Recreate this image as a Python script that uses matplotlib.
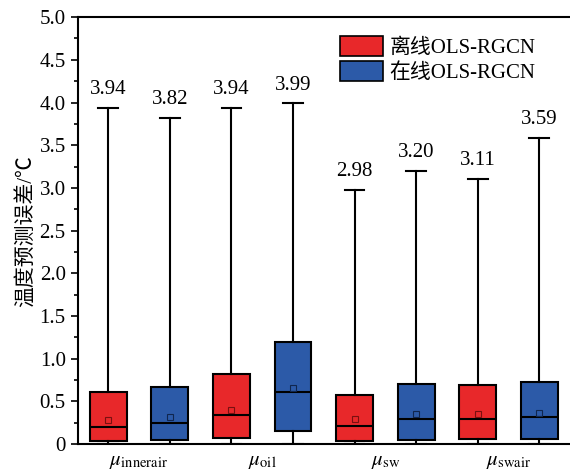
import matplotlib
matplotlib.use("Agg")
import matplotlib.pyplot as plt
from matplotlib.patches import Patch
from matplotlib.ticker import MultipleLocator, FuncFormatter

plt.rcParams['font.family'] = ['Liberation Serif', 'Noto Sans CJK SC']
plt.rcParams['mathtext.fontset'] = 'stix'

# data
groups = [r'$\mu_{\mathrm{innerair}}$', r'$\mu_{\mathrm{oil}}$',
          r'$\mu_{\mathrm{sw}}$', r'$\mu_{\mathrm{swair}}$']
series = ['离线OLS-RGCN', '在线OLS-RGCN']
q1 = [0.04, 0.05, 0.07, 0.15, 0.04, 0.05, 0.06, 0.06]
med = [0.20, 0.25, 0.34, 0.61, 0.21, 0.29, 0.30, 0.32]
q3 = [0.61, 0.67, 0.82, 1.20, 0.58, 0.70, 0.69, 0.73]
mean = [0.28, 0.32, 0.40, 0.66, 0.30, 0.35, 0.35, 0.37]
wmin = [0, 0, 0, 0, 0, 0, 0, 0]
wmax = [3.94, 3.82, 3.94, 3.99, 2.98, 3.20, 3.11, 3.59]

colors = ['#E8282A', '#2C5AA8']
mean_edge = ['#7a1010', '#10264f']

stats = []
for i in range(len(med)):
    stats.append(dict(q1=q1[i], med=med[i], q3=q3[i], mean=mean[i],
                      whislo=wmin[i], whishi=wmax[i], fliers=[]))

fig = plt.figure(figsize=(5.7, 4.75), dpi=100)
ax = fig.add_axes([0.136, 0.065, 0.864, 0.899])

pos = list(range(1, len(med) + 1))
bp = ax.bxp(stats, positions=pos, widths=0.6, capwidths=0.32,
            patch_artist=True, showmeans=True, showfliers=False,
            boxprops=dict(linewidth=1.5, edgecolor='black'),
            medianprops=dict(color='black', linewidth=1.5),
            whiskerprops=dict(color='black', linewidth=1.5),
            capprops=dict(color='black', linewidth=1.5),
            meanprops=dict(marker='s', markersize=4.5, markerfacecolor='none',
                           markeredgewidth=0.8))

for i, b in enumerate(bp['boxes']):
    b.set_facecolor(colors[i % 2])
for i, m in enumerate(bp['means']):
    m.set_markeredgecolor(mean_edge[i % 2])

for p, v in zip(pos, wmax):
    ax.text(p, v + 0.1, f'{v:.2f}', ha='center', va='bottom', fontsize=15)

ax.set_xlim(0.5, 8.5)
ax.set_ylim(0, 5.0)
ax.set_xticks([1.5, 3.5, 5.5, 7.5])
ax.set_xticklabels(groups, fontsize=15)
ax.tick_params(axis='x', length=0, pad=6)

ax.yaxis.set_major_locator(MultipleLocator(0.5))
ax.yaxis.set_minor_locator(MultipleLocator(0.25))
ax.yaxis.set_major_formatter(FuncFormatter(lambda v, p: '0' if v == 0 else f'{v:.1f}'))
ax.tick_params(axis='y', which='major', direction='out', length=5, width=1.2, labelsize=15)
ax.tick_params(axis='y', which='minor', direction='out', length=3, width=1.2)
ax.set_ylabel('温度预测误差/℃', fontsize=15, labelpad=2)

for s in ['left', 'bottom', 'top']:
    ax.spines[s].set_linewidth(1.5)
ax.spines['right'].set_visible(False)

handles = [Patch(facecolor=colors[0], edgecolor='black', linewidth=1.2, label=series[0]),
           Patch(facecolor=colors[1], edgecolor='black', linewidth=1.2, label=series[1])]
ax.legend(handles=handles, loc='upper right', bbox_to_anchor=(0.96, 0.99),
          frameon=False, fontsize=15, handlelength=2.1, handleheight=1.1,
          handletextpad=0.3, labelspacing=0.12, borderaxespad=0.3)

fig.savefig('out.png', dpi=100)
